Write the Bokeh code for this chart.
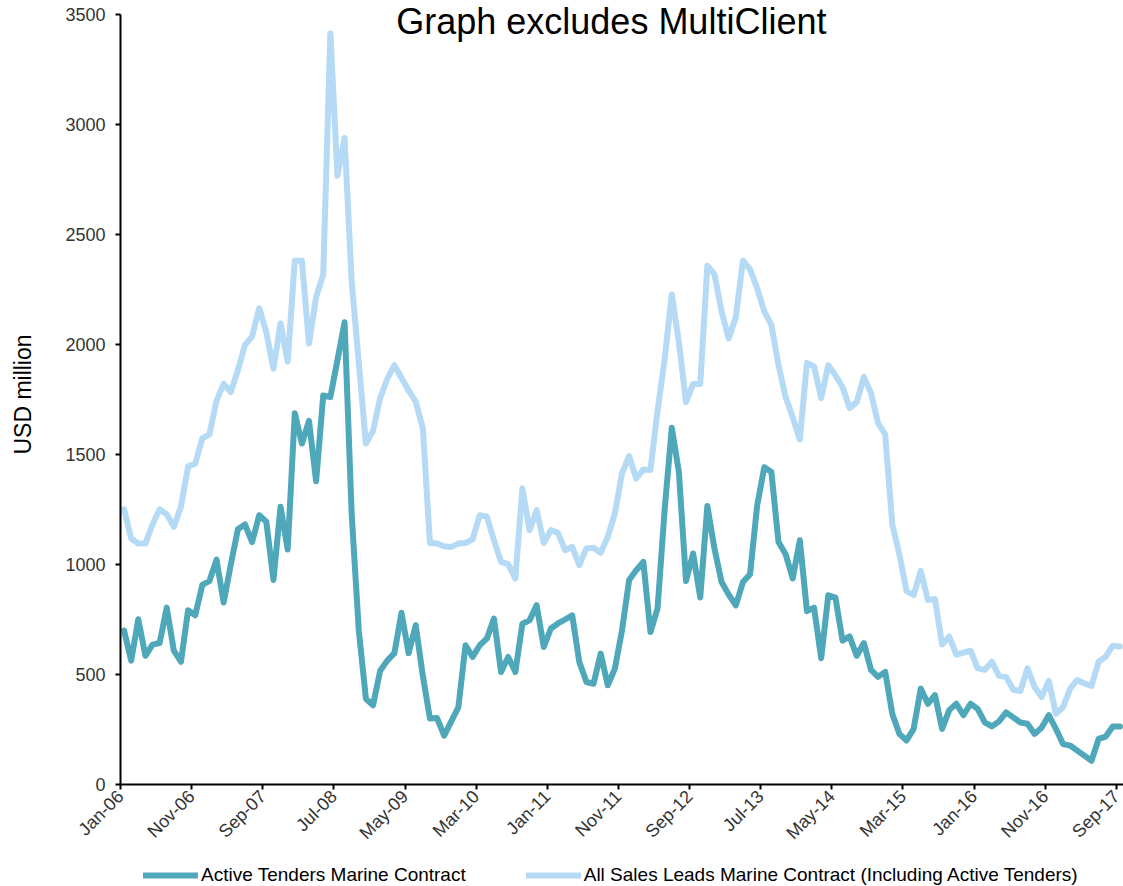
import math
from bokeh.plotting import figure
from bokeh.models import FixedTicker, Label, Legend, LegendItem, Range1d, ColumnDataSource
from bokeh.embed import file_html
from bokeh.resources import INLINE

tick_labels = ["Jan-06", "Nov-06", "Sep-07", "Jul-08", "May-09", "Mar-10", "Jan-11",
               "Nov-11", "Sep-12", "Jul-13", "May-14", "Mar-15", "Jan-16", "Nov-16", "Sep-17"]

active_tenders = [
    700, 563, 751, 585, 636, 643, 804, 608, 558, 792,
    769, 907, 925, 1022, 827, 999, 1160, 1182, 1102, 1224,
    1194, 930, 1263, 1068, 1688, 1550, 1653, 1378, 1768, 1761,
    1929, 2101, 1228, 700, 390, 360, 517, 563, 597, 781,
    597, 724, 494, 300, 302, 222, 287, 352, 633, 580,
    633, 663, 754, 511, 580, 511, 731, 746, 815, 625,
    709, 732, 750, 769, 557, 466, 458, 595, 451, 527,
    700, 929, 974, 1012, 693, 800, 1251, 1622, 1420, 925,
    1050, 850, 1266, 1072, 920, 863, 814, 920, 956, 1268,
    1442, 1420, 1102, 1047, 937, 1110, 788, 804, 574, 860,
    850, 654, 673, 585, 643, 521, 489, 512, 321, 230,
    200, 253, 436, 367, 406, 253, 338, 367, 315, 367,
    344, 282, 264, 287, 328, 305, 282, 276, 230, 259,
    315, 253, 184, 177, 154, 131, 108, 207, 218, 264,
    264,
]

all_sales_leads = [
    1251, 1118, 1095, 1095, 1182, 1251, 1228, 1171, 1263, 1446,
    1458, 1573, 1591, 1745, 1821, 1784, 1883, 1998, 2037, 2165,
    2055, 1890, 2096, 1922, 2381, 2381, 2004, 2216, 2319, 3414,
    2767, 2939, 2285, 1917, 1550, 1607, 1756, 1844, 1906, 1848,
    1791, 1740, 1619, 1098, 1095, 1083, 1080, 1095, 1098, 1114,
    1224, 1218, 1110, 1012, 1002, 936, 1346, 1156, 1247, 1098,
    1156, 1144, 1065, 1080, 997, 1073, 1076, 1053, 1126, 1232,
    1414, 1493, 1391, 1432, 1429, 1700, 1935, 2227, 2009, 1738,
    1821, 1821, 2358, 2319, 2150, 2027, 2124, 2381, 2342, 2255,
    2151, 2089, 1906, 1761, 1669, 1568, 1917, 1899, 1756, 1906,
    1860, 1807, 1711, 1738, 1853, 1779, 1642, 1591, 1182, 1045,
    879, 861, 971, 838, 843, 636, 673, 590, 599, 608,
    528, 521, 558, 494, 489, 430, 425, 528, 443, 397,
    471, 321, 351, 436, 475, 459, 448, 558, 581, 631,
    627,
]

n = len(active_tenders)
x_pos = [i + 0.5 for i in range(n)]  # points sit between tick marks (category centres)
src = ColumnDataSource(dict(x=x_pos, active=active_tenders, all=all_sales_leads))

FONT = "Liberation Sans"
TEAL = "#4FA8BA"
LIGHT = "#B4DAF5"

# Geometry: one frame covers the whole canvas; axes are pinned at x=0 / y=0
W, H = 1123, 886
X_PX = 1003 / n                    # pixels per month
X_LEFT_PX = 120                    # pixel column of the y axis
Y_MAX = 3500
Y_PX = 770 / Y_MAX                 # pixels per USD million
ZERO_FROM_TOP = 784                # pixel row of value 0
x_start = -X_LEFT_PX / X_PX
x_end = (W - X_LEFT_PX) / X_PX
y_top = ZERO_FROM_TOP / Y_PX
y_bottom = -(H - ZERO_FROM_TOP) / Y_PX

p = figure(frame_width=W, frame_height=H,
           x_range=Range1d(x_start, x_end), y_range=Range1d(y_bottom, y_top),
           output_backend="svg", toolbar_location=None,
           min_border_left=0, min_border_top=0, min_border_right=0, min_border_bottom=0)
p.xgrid.visible = False
p.ygrid.visible = False
p.outline_line_color = None
p.background_fill_color = "white"

r_all = p.line("x", "all", source=src, line_color=LIGHT, line_width=6,
               line_join="round", line_cap="round")
r_act = p.line("x", "active", source=src, line_color=TEAL, line_width=6,
               line_join="round", line_cap="round")

# Y axis pinned at x = 0
ya = p.yaxis[0]
ya.fixed_location = 0
ya.ticker = FixedTicker(ticks=list(range(0, Y_MAX + 1, 500)))
ya.bounds = (0, Y_MAX)
ya.axis_line_color = "black"
ya.axis_line_width = 2
ya.major_tick_line_color = "black"
ya.major_tick_line_width = 2
ya.major_tick_out = 5
ya.major_tick_in = 0
ya.minor_tick_line_color = None
ya.major_label_text_font = FONT
ya.major_label_text_font_size = "18px"
ya.major_label_text_color = "#333333"
ya.major_label_standoff = 10

# X axis pinned at y = 0
xa = p.xaxis[0]
xa.fixed_location = 0
tick_pos = [i * 10 for i in range(len(tick_labels))]
xa.ticker = FixedTicker(ticks=tick_pos)
xa.bounds = (0, n)
xa.major_label_overrides = {t: lab for t, lab in zip(tick_pos, tick_labels)}
xa.major_label_orientation = math.pi / 4
xa.axis_line_color = "black"
xa.axis_line_width = 2
xa.major_tick_line_color = "black"
xa.major_tick_line_width = 2
xa.major_tick_out = 5
xa.major_tick_in = 0
xa.minor_tick_line_color = None
xa.major_label_text_font = FONT
xa.major_label_text_font_size = "18px"
xa.major_label_text_color = "#333333"
xa.major_label_standoff = 4

# Y axis title
ylab = Label(x=(22 - X_LEFT_PX) / X_PX, y=(ZERO_FROM_TOP - 394) / Y_PX, text="USD million",
             text_font=FONT, text_font_size="23px", text_color="black",
             text_align="center", text_baseline="middle", angle=math.pi / 2)
p.add_layout(ylab)

# Title overlapping top of plot area
title = Label(x=69, y=3468, text="Graph excludes MultiClient",
              text_font=FONT, text_font_size="36px", text_color="black",
              text_align="center", text_baseline="alphabetic")
p.add_layout(title)

legend = Legend(items=[LegendItem(label="Active Tenders Marine Contract", renderers=[r_act]),
                       LegendItem(label="All Sales Leads Marine Contract (Including Active Tenders)",
                                  renderers=[r_all])],
                orientation="horizontal", location=(143, 0),
                glyph_width=55, glyph_height=20, label_standoff=3, spacing=60,
                padding=0, margin=0, border_line_color=None, background_fill_alpha=0,
                label_text_font=FONT, label_text_font_size="19px", label_text_color="black")
p.add_layout(legend, "center")

open("out.html", "w").write(file_html(p, INLINE))
